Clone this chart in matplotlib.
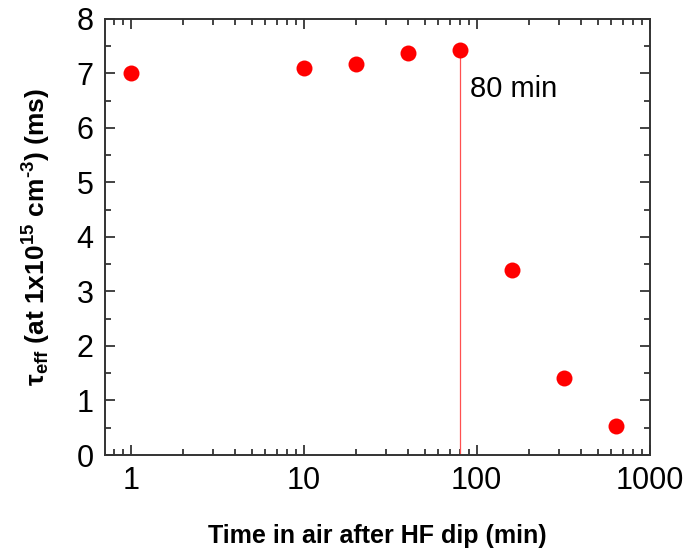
import matplotlib
matplotlib.use("Agg")
import matplotlib.pyplot as plt
from matplotlib.ticker import FixedLocator, LogLocator, FuncFormatter, MultipleLocator

# Data
time_min = [1, 10, 20, 40, 80, 160, 320, 640]
tau_ms = [7.0, 7.1, 7.17, 7.38, 7.42, 3.4, 1.42, 0.53]
marker_time = 80
x_ticks = [1, 10, 100, 1000]
y_ticks = [0, 1, 2, 3, 4, 5, 6, 7, 8]

plt.rcParams['font.family'] = ['Liberation Sans', 'DejaVu Sans']
plt.rcParams['mathtext.fontset'] = 'custom'
plt.rcParams['mathtext.rm'] = 'Liberation Sans:bold'
plt.rcParams['mathtext.it'] = 'Liberation Sans:italic'
plt.rcParams['mathtext.bf'] = 'Liberation Sans:bold'

fig = plt.figure(figsize=(6.89, 5.5), dpi=100)
ax = fig.add_axes([0.152, 0.1727, 0.791, 0.793])

idx = time_min.index(marker_time)
ax.plot([marker_time, marker_time], [0, tau_ms[idx]], color='#ff5050', lw=0.9, zorder=2)
ax.plot(time_min, tau_ms, 'o', color='#ff0000', markersize=11.5, markeredgewidth=0, zorder=3)

ax.set_xscale('log')
ax.set_xlim(0.707, 1000)
ax.set_ylim(0, 8)
ax.xaxis.set_major_locator(FixedLocator(x_ticks))
ax.xaxis.set_minor_locator(LogLocator(base=10, subs=range(2, 10), numticks=20))
ax.xaxis.set_major_formatter(FuncFormatter(lambda v, p: f"{v:g}"))
ax.xaxis.set_minor_formatter(FuncFormatter(lambda v, p: ""))
ax.yaxis.set_major_locator(FixedLocator(y_ticks))
ax.yaxis.set_minor_locator(MultipleLocator(0.5))

ax.tick_params(which='both', direction='in', top=True, right=True, width=1.2, colors='#222222')
ax.tick_params(which='major', length=7, labelsize=22, pad=8, labelcolor='black')
ax.tick_params(which='minor', length=4)
for s in ax.spines.values():
    s.set_linewidth(1.4)
    s.set_color('#333333')

ax.text(91, 6.72, '80 min', fontsize=21, va='center', ha='left')

ax.set_xlabel('Time in air after HF dip (min)', fontsize=18, fontweight='bold', labelpad=20)
ax.set_ylabel(r'τ$_{\mathbf{eff}}$ (at 1x10$^{\mathbf{15}}$ cm$^{\text{-}\mathbf{3}}$) (ms)',
              fontsize=19, fontweight='bold', labelpad=17)

fig.savefig('out.png', dpi=100)
